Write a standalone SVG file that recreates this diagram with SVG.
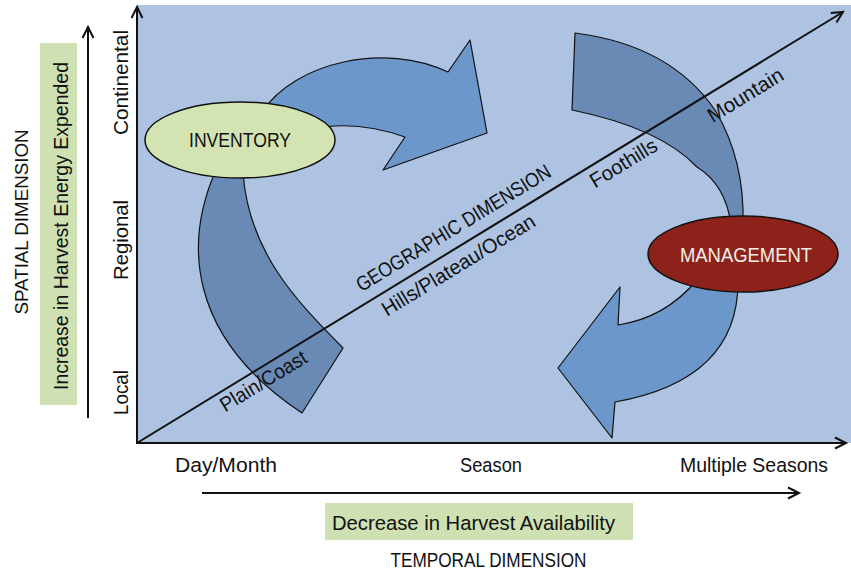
<svg xmlns="http://www.w3.org/2000/svg" width="851" height="573" viewBox="0 0 851 573">
<style>
text{font-family:"Liberation Sans",Arial,sans-serif;fill:#111;}
.t{font-size:20.5px;}
.ax{stroke:#111;stroke-width:2;fill:none;}
.big{fill:#6c97cb;stroke:#111;stroke-width:1.2;stroke-linejoin:round;}
.arc{fill:#6a8ab6;stroke:#111;stroke-width:1.2;stroke-linejoin:round;}
.box{fill:#cfe0b2;}
</style>
<defs>
<marker id="open" markerUnits="userSpaceOnUse" markerWidth="14" markerHeight="14" refX="12" refY="6" orient="auto" overflow="visible">
<path d="M1,0.5 L12,6 L1,11.5" fill="none" stroke="#111" stroke-width="2"/>
</marker>
</defs>
<rect x="0" y="0" width="851" height="573" fill="#fff"/>
<rect id="plot" x="137" y="5" width="714" height="438" fill="#adc3e1"/>

<g id="connectors">
<path class="big" d="M262,112 C295,62 385,42 448,72 L470,40 L487,133 L383,170 L405,137 C385,130 355,123 325,127 L318,140 Z"/>
<path class="arc" d="M216,170 C185,240 185,335 302,413 L343,348 C295,300 248,250 243,172 Z"/>
<path class="arc" d="M575,33 Q670,45 715,110 Q745,160 743,225 L731,225 Q726,185 697,167 Q660,128 572,110 Z"/>
<path class="big" d="M738,282 Q738,380 615,402 L612,438 L558,368 L620,287 L618,325 Q665,318 697,280 Z"/>
</g>

<g id="axes">
<line class="ax" x1="137" y1="443" x2="137" y2="7" marker-end="url(#open)"/>
<line class="ax" x1="136" y1="443" x2="846" y2="443" marker-end="url(#open)"/>
<line class="ax" x1="137" y1="443" x2="843" y2="12" marker-end="url(#open)"/>
<line class="ax" x1="88" y1="418" x2="88" y2="27" marker-end="url(#open)"/>
<line class="ax" x1="202" y1="493" x2="799" y2="493" marker-end="url(#open)"/>
</g>

<g id="inventory">
<ellipse cx="240" cy="140" rx="95" ry="38" fill="#d3e3b1" stroke="#111" stroke-width="1.5"/>
<text class="t" x="240" y="147" text-anchor="middle" textLength="102" lengthAdjust="spacingAndGlyphs">INVENTORY</text>
</g>

<g id="management">
<ellipse cx="743" cy="254" rx="95" ry="38" fill="#8c2219" stroke="#111" stroke-width="1.5"/>
<text class="t" x="746" y="262" text-anchor="middle" textLength="132" lengthAdjust="spacingAndGlyphs" style="fill:#f6efe8">MANAGEMENT</text>
</g>

<g id="geo-labels">
<text class="t" transform="translate(457,234) rotate(-31.4)" text-anchor="middle" textLength="224" lengthAdjust="spacingAndGlyphs">GEOGRAPHIC DIMENSION</text>
<text class="t" transform="translate(462,271) rotate(-31.4)" text-anchor="middle" textLength="176" lengthAdjust="spacingAndGlyphs">Hills/Plateau/Ocean</text>
<text class="t" transform="translate(267,387) rotate(-31.4)" text-anchor="middle" textLength="98" lengthAdjust="spacingAndGlyphs">Plain/Coast</text>
<text class="t" transform="translate(627,169) rotate(-31.4)" text-anchor="middle" textLength="75" lengthAdjust="spacingAndGlyphs">Foothills</text>
<text class="t" transform="translate(749,101) rotate(-31.4)" text-anchor="middle" textLength="85" lengthAdjust="spacingAndGlyphs">Mountain</text>
</g>

<g id="spatial-axis">
<rect class="box" x="40" y="43" width="37" height="362"/>
<text class="t" transform="translate(68,226) rotate(-90)" text-anchor="middle" textLength="328" lengthAdjust="spacingAndGlyphs">Increase in Harvest Energy Expended</text>
<text transform="translate(28,222) rotate(-90)" text-anchor="middle" font-size="19" textLength="185" lengthAdjust="spacingAndGlyphs">SPATIAL DIMENSION</text>
<text class="t" transform="translate(128,82.5) rotate(-90)" text-anchor="middle" textLength="105" lengthAdjust="spacingAndGlyphs">Continental</text>
<text class="t" transform="translate(128,240) rotate(-90)" text-anchor="middle" textLength="80" lengthAdjust="spacingAndGlyphs">Regional</text>
<text class="t" transform="translate(128,392.5) rotate(-90)" text-anchor="middle" textLength="45" lengthAdjust="spacingAndGlyphs">Local</text>
</g>

<g id="temporal-axis">
<text class="t" x="226" y="472" text-anchor="middle" textLength="102" lengthAdjust="spacingAndGlyphs">Day/Month</text>
<text class="t" x="491" y="472" text-anchor="middle" textLength="62" lengthAdjust="spacingAndGlyphs">Season</text>
<text class="t" x="754" y="472" text-anchor="middle" textLength="148" lengthAdjust="spacingAndGlyphs">Multiple Seasons</text>
<rect class="box" x="325" y="503" width="308" height="37"/>
<text class="t" x="473.5" y="530" text-anchor="middle" textLength="283" lengthAdjust="spacingAndGlyphs">Decrease in Harvest Availability</text>
<text class="t" x="488.5" y="567" text-anchor="middle" textLength="196" lengthAdjust="spacingAndGlyphs">TEMPORAL DIMENSION</text>
</g>
</svg>
